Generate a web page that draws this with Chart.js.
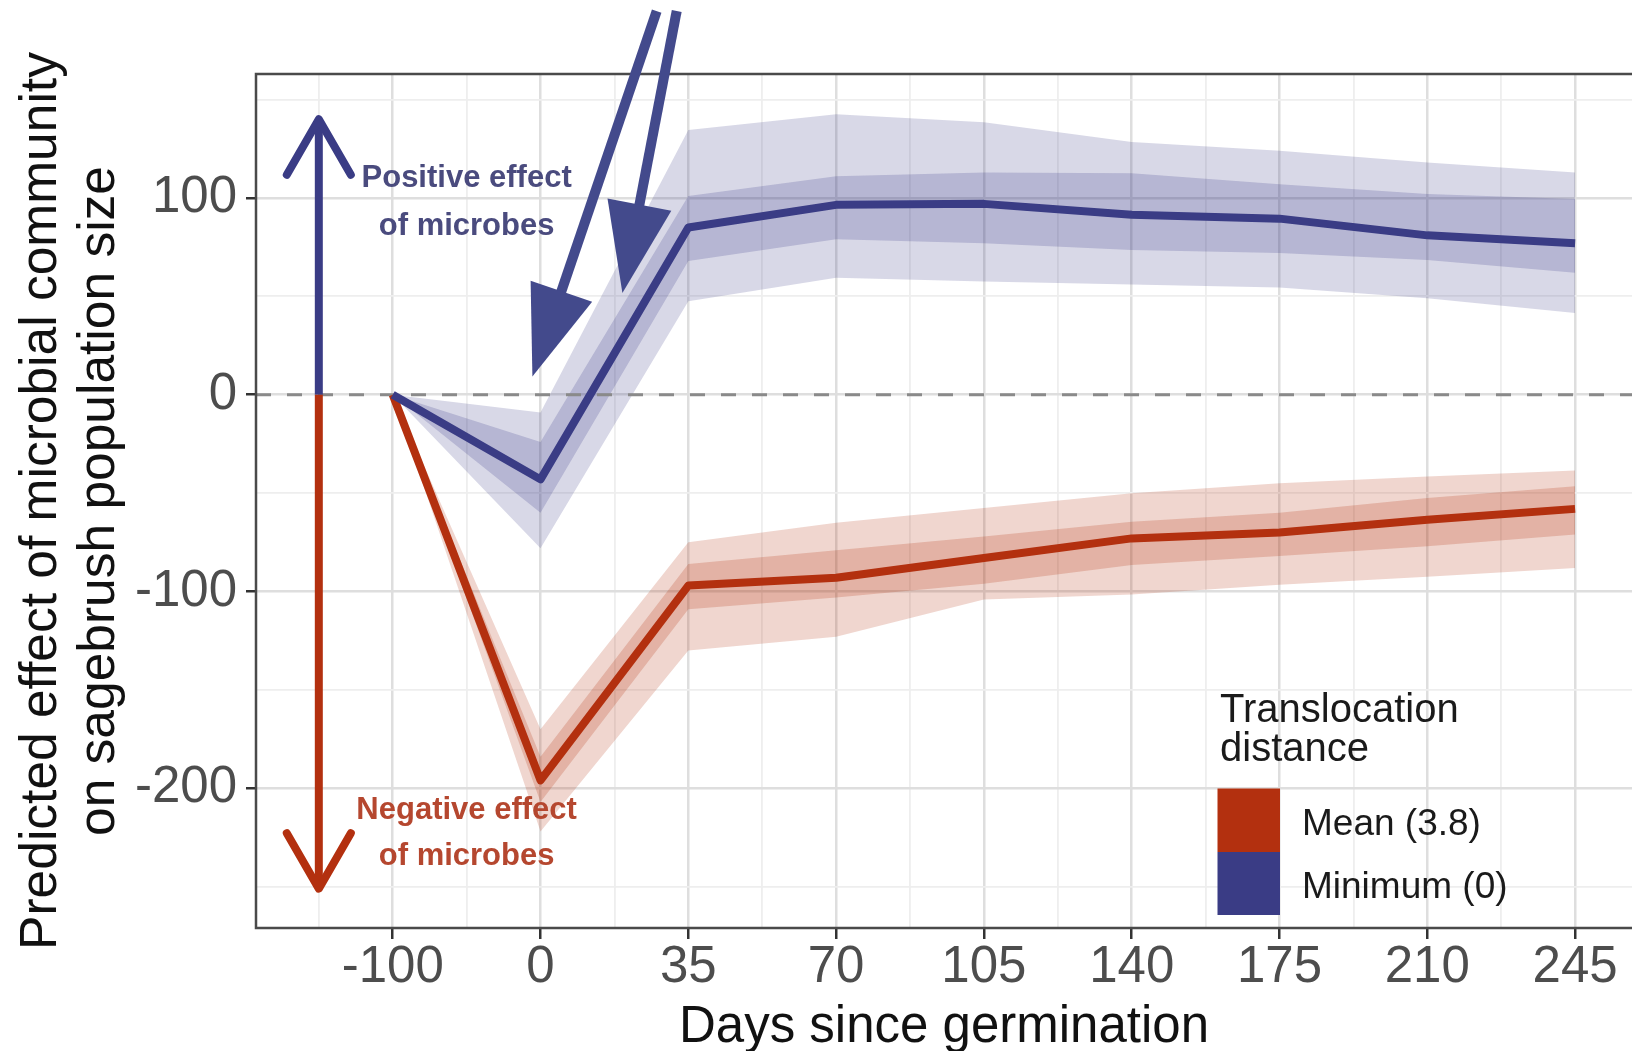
<!DOCTYPE html>
<html>
<head>
<meta charset="utf-8">
<script src="https://cdn.jsdelivr.net/npm/chart.js@4.4.1/dist/chart.umd.min.js"></script>
<style>
html,body{margin:0;padding:0;background:#fff;overflow:hidden}
#wrap{width:1632px;height:1051px;position:relative}
</style>
</head>
<body>
<div id="wrap"><canvas id="c" width="1632" height="1051"></canvas></div>
<script>
// ---------------- DATA ----------------
const days = ['-100', '0', '35', '70', '105', '140', '175', '210', '245'];

// Mean (3.8) translocation distance
const meanLine       = [0, -196, -97, -93, -83, -73, -70, -63.5, -58];
const meanInnerUpper = [0, -184, -86, -79, -72, -64.5, -60, -52.5, -46.5];
const meanInnerLower = [0, -207, -109, -103, -96, -86.5, -82, -77, -71];
const meanOuterUpper = [0, -170, -75, -65, -57.5, -50, -45, -41.5, -38.5];
const meanOuterLower = [0, -222, -130, -123, -104, -101.5, -96.5, -92.5, -88];

// Minimum (0) translocation distance
const minLine        = [0, -43, 85, 96.5, 97, 91.5, 89.5, 81, 77];
const minInnerUpper  = [0, -24, 101, 111, 113, 112.5, 107, 102, 99.5];
const minInnerLower  = [0, -60, 68, 79, 77, 73.5, 72, 68.5, 62];
const minOuterUpper  = [0, -9, 134.5, 142.5, 138.5, 128.5, 124, 118, 113];
const minOuterLower  = [0, -78, 47.5, 59.5, 57.5, 56, 54.5, 49, 41.5];

const yTickValues  = [-250, -200, -150, -100, -50, 0, 50, 100, 150];
const yLabelValues = [-200, -100, 0, 100];
const zeroLine = 0;

const legendTitle  = ['Translocation', 'distance'];
const legendLabels = ['Mean (3.8)', 'Minimum (0)'];

// annotations (data units: x = category index, y = effect)
const effectArrowX = -0.5;
const positiveArrowEnd = 140;
const negativeArrowEnd = -251;
const positiveText = ['Positive effect', 'of microbes'];
const positiveTextY = [110, 85.5];
const negativeText = ['Negative effect', 'of microbes'];
const negativeTextY = [-211.5, -234.5];
const effectTextX = 0.5;
const pointerStartX = [1.786, 1.9215];
const pointerStartY = [195, 195];
const pointerTipX   = [0.9452, 1.5541];
const pointerTipY   = [9.3, 51.7];

// ---------------- STYLE ----------------
const RED = '#B3300F', BLUE = '#3A3C85';
const RED_FILL = 'rgba(178,48,15,0.20)', RED_FILL2 = 'rgba(178,48,15,0.22)';
const BLUE_FILL = 'rgba(58,61,135,0.20)', BLUE_FILL2 = 'rgba(58,61,135,0.22)';
const FONT = "'Liberation Sans', Arial, sans-serif";
const X_MIN = -0.925, X_MAX = 8.385, Y_MIN = -271, Y_MAX = 163;

const pts = arr => arr.map((v, i) => ({x: i, y: v}));
function band(arr, fill, color, order) {
  return {data: pts(arr), fill: fill, backgroundColor: color, borderColor: 'rgba(0,0,0,0)',
          borderWidth: 0, pointRadius: 0, order: order, tension: 0};
}
const isMajorY = v => yLabelValues.includes(v);
const isMajorX = v => Number.isInteger(v) && v >= 0 && v < days.length;

const xTickValues = [];
days.forEach((d, i) => { xTickValues.push(i - 0.5); xTickValues.push(i); });

// ---------------- PLUGINS ----------------
function drawArrowOpen(ctx, x, y0, y1, color) {
  const dir = y1 > y0 ? 1 : -1;
  ctx.save();
  ctx.strokeStyle = color; ctx.lineWidth = 8; ctx.lineCap = 'butt'; ctx.lineJoin = 'round';
  ctx.beginPath(); ctx.moveTo(x, y0); ctx.lineTo(x, y1); ctx.stroke();
  const L = 64, a = Math.PI / 6;
  ctx.lineCap = 'round';
  ctx.beginPath();
  ctx.moveTo(x - L * Math.sin(a), y1 - dir * L * Math.cos(a));
  ctx.lineTo(x, y1);
  ctx.lineTo(x + L * Math.sin(a), y1 - dir * L * Math.cos(a));
  ctx.stroke();
  ctx.restore();
}
function drawPointer(ctx, x0, y0, x1, y1, color) {
  const dx = x1 - x0, dy = y1 - y0, len = Math.hypot(dx, dy);
  const ux = dx / len, uy = dy / len;
  const headL = 90, headW = 32.5;
  const bx = x1 - ux * headL, by = y1 - uy * headL;
  ctx.save();
  ctx.strokeStyle = color; ctx.fillStyle = color; ctx.lineWidth = 10; ctx.lineCap = 'butt';
  ctx.beginPath(); ctx.moveTo(x0, y0); ctx.lineTo(bx + ux * 2, by + uy * 2); ctx.stroke();
  ctx.beginPath();
  ctx.moveTo(x1, y1);
  ctx.lineTo(bx - uy * headW, by + ux * headW);
  ctx.lineTo(bx + uy * headW, by - ux * headW);
  ctx.closePath(); ctx.fill();
  ctx.restore();
}

const overlay = {
  id: 'overlay',
  afterDatasetsDraw(chart) {
    const ctx = chart.ctx, xs = chart.scales.x, ys = chart.scales.y, a = chart.chartArea;
    // panel border (top, left, bottom)
    ctx.save();
    ctx.strokeStyle = '#4a4a4a'; ctx.lineWidth = 2.5;
    ctx.beginPath();
    ctx.moveTo(a.right + 5, a.top); ctx.lineTo(a.left, a.top); ctx.lineTo(a.left, a.bottom); ctx.lineTo(a.right + 5, a.bottom);
    ctx.stroke();
    ctx.restore();

    // effect arrows
    const ax = xs.getPixelForValue(effectArrowX), y0 = ys.getPixelForValue(zeroLine);
    drawArrowOpen(ctx, ax, y0, ys.getPixelForValue(positiveArrowEnd), BLUE);
    drawArrowOpen(ctx, ax, y0, ys.getPixelForValue(negativeArrowEnd), RED);

    // effect texts
    ctx.save();
    ctx.font = 'bold 31px ' + FONT; ctx.textAlign = 'center'; ctx.textBaseline = 'middle';
    const tx = xs.getPixelForValue(effectTextX);
    ctx.fillStyle = '#4A4B7E';
    positiveText.forEach((t, i) => ctx.fillText(t, tx, ys.getPixelForValue(positiveTextY[i])));
    ctx.fillStyle = '#B5472F';
    negativeText.forEach((t, i) => ctx.fillText(t, tx, ys.getPixelForValue(negativeTextY[i])));
    ctx.restore();

    // pointer arrows
    for (let i = 0; i < pointerStartX.length; i++) {
      drawPointer(ctx, xs.getPixelForValue(pointerStartX[i]), ys.getPixelForValue(pointerStartY[i]),
                  xs.getPixelForValue(pointerTipX[i]), ys.getPixelForValue(pointerTipY[i]), '#434A8C');
    }

    // legend
    ctx.save();
    ctx.fillStyle = '#1A1A1A'; ctx.textAlign = 'left'; ctx.textBaseline = 'alphabetic';
    ctx.font = '40px ' + FONT;
    ctx.fillText(legendTitle[0], 1220, 722);
    ctx.fillText(legendTitle[1], 1220, 761);
    ctx.fillStyle = RED; ctx.fillRect(1217.5, 788.5, 62.5, 63.5);
    ctx.fillStyle = BLUE; ctx.fillRect(1217.5, 852, 62.5, 63);
    ctx.fillStyle = '#1A1A1A';
    ctx.font = '37px ' + FONT;
    ctx.fillText(legendLabels[0], 1302, 835);
    ctx.fillText(legendLabels[1], 1302, 898);
    ctx.restore();
  }
};

// ---------------- CHART ----------------
new Chart(document.getElementById('c'), {
  type: 'line',
  data: {
    datasets: [
      band(meanOuterUpper, '+1', RED_FILL, 20),
      band(meanOuterLower, false, 'rgba(0,0,0,0)', 20),
      band(meanInnerUpper, '+1', RED_FILL2, 19),
      band(meanInnerLower, false, 'rgba(0,0,0,0)', 19),
      band(minOuterUpper, '+1', BLUE_FILL, 18),
      band(minOuterLower, false, 'rgba(0,0,0,0)', 18),
      band(minInnerUpper, '+1', BLUE_FILL2, 17),
      band(minInnerLower, false, 'rgba(0,0,0,0)', 17),
      {data: [{x: X_MIN, y: zeroLine}, {x: X_MAX, y: zeroLine}], borderColor: '#8A8A8A', borderWidth: 3,
       borderDash: [15, 16], pointRadius: 0, fill: false, order: 5},
      {label: legendLabels[0], data: pts(meanLine), borderColor: RED, borderWidth: 8, pointRadius: 0,
       fill: false, order: 2, borderJoinStyle: 'round', tension: 0},
      {label: legendLabels[1], data: pts(minLine), borderColor: BLUE, borderWidth: 8, pointRadius: 0,
       fill: false, order: 1, borderJoinStyle: 'round', tension: 0}
    ]
  },
  options: {
    responsive: false, animation: false, devicePixelRatio: 1,
    layout: {padding: {top: 74, left: 0, right: 0, bottom: 0}},
    plugins: {legend: {display: false}, tooltip: {enabled: false}},
    scales: {
      x: {
        type: 'linear', min: X_MIN, max: X_MAX,
        afterBuildTicks: s => { s.ticks = xTickValues.map(v => ({value: v})); },
        afterFit: s => { s.height = 123; },
        border: {display: false},
        grid: {
          color: c => (c.tick && isMajorX(c.tick.value)) ? '#DEDEDE' : '#EEEEEE',
          lineWidth: c => (c.tick && isMajorX(c.tick.value)) ? 2.5 : 1.8,
          tickColor: c => (c.tick && isMajorX(c.tick.value)) ? '#333333' : 'rgba(0,0,0,0)',
          tickWidth: 2.5, tickLength: 11, drawTicks: true
        },
        ticks: {
          autoSkip: false, maxRotation: 0, minRotation: 0, padding: 1,
          color: '#4D4D4D', font: {family: FONT, size: 51, lineHeight: 1.1},
          callback: v => isMajorX(v) ? days[v] : ''
        },
        title: {display: true, text: 'Days since germination', color: '#111111',
                font: {family: FONT, size: 51, lineHeight: 0.85}, padding: {top: 0, bottom: 1}}
      },
      y: {
        type: 'linear', min: Y_MIN, max: Y_MAX,
        afterBuildTicks: s => { s.ticks = yTickValues.map(v => ({value: v})); },
        afterFit: s => { s.width = 256; },
        border: {display: false},
        grid: {
          color: c => (c.tick && isMajorY(c.tick.value)) ? '#DEDEDE' : '#EEEEEE',
          lineWidth: c => (c.tick && isMajorY(c.tick.value)) ? 2.5 : 1.8,
          tickColor: c => (c.tick && isMajorY(c.tick.value)) ? '#333333' : 'rgba(0,0,0,0)',
          tickWidth: 2.5, tickLength: 10, drawTicks: true
        },
        ticks: {
          autoSkip: false, padding: 9, color: '#4D4D4D', font: {family: FONT, size: 51},
          callback: v => isMajorY(v) ? String(v) : ''
        },
        title: {display: true, text: ['Predicted effect of microbial community', 'on sagebrush population size'],
                color: '#111111', font: {family: FONT, size: 51.5, lineHeight: 1.13}, padding: {top: 13, bottom: 0}}
      }
    }
  },
  plugins: [overlay]
});
</script>
</body>
</html>
